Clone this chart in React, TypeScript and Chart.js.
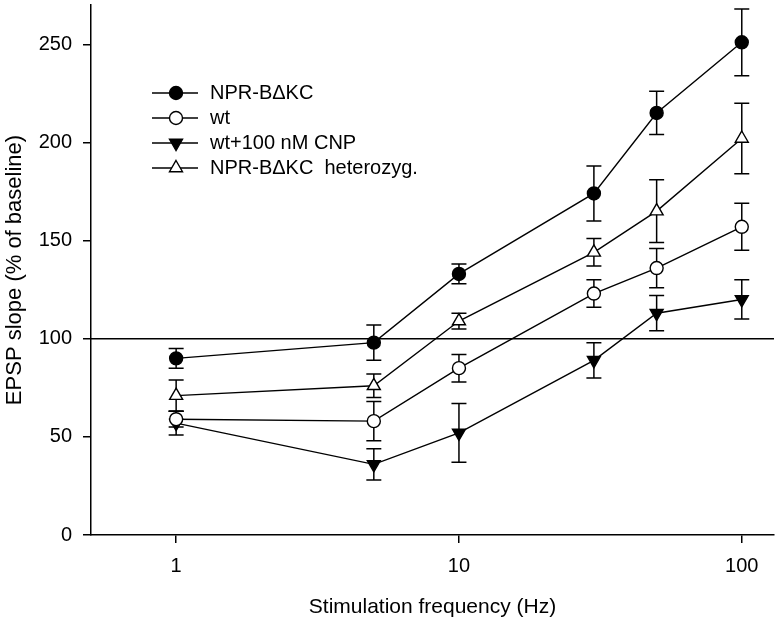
import React, { useEffect, useRef } from "react";
import { Chart, registerables } from "chart.js";
import { drawPoint } from "chart.js/helpers";

Chart.register(...registerables);

const frequencies = [1, 5, 10, 30, 50, 100];
const seriesLabels = ["NPR-BΔKC", "wt", "wt+100 nM CNP", "NPR-BΔKC  heterozyg."];
const nprMean = [90, 98, 133, 174, 215, 251];
const nprErr = [5, 9, 5, 14, 11, 17];
const wtMean = [59, 58, 85, 123, 136, 157];
const wtErr = [4, 10, 7, 7, 10, 12];
const cnpMean = [57, 36, 52, 89, 113, 120];
const cnpErr = [6, 8, 15, 9, 9, 10];
const hetMean = [71, 76, 109, 144, 165, 202];
const hetErr = [8, 6, 4, 7, 16, 18];
const xTicks = [1, 10, 100];
const yTicks = [0, 50, 100, 150, 200, 250];
const baseline = 100;

const FONT = "'Liberation Sans', Arial, sans-serif";

export default function App() {
  const ref = useRef<HTMLCanvasElement>(null);

  useEffect(() => {
    const canvas = ref.current!;
    const means = [nprMean, wtMean, cnpMean, hetMean];
    const errs = [nprErr, wtErr, cnpErr, hetErr];
    const fills = ["#000000", "#ffffff", "#000000", "#ffffff"];
    const styles = ["circle", "circle", "triangle", "triangle"];
    const rotations = [0, 0, 180, 0];
    const radii = [6.5, 6.5, 7.5, 7.5];

    const datasets = means.map((m, k) => ({
      label: seriesLabels[k],
      data: frequencies.map((x, i) => ({ x, y: m[i] })),
      borderColor: "#000000",
      backgroundColor: fills[k],
      borderWidth: 1.4,
      pointStyle: styles[k] as any,
      pointRotation: rotations[k],
      pointRadius: radii[k],
      pointBorderWidth: 1.4,
      pointBorderColor: "#000000",
      pointBackgroundColor: fills[k],
      fill: false,
      tension: 0,
      clip: false as any,
    }));

    const underlay = {
      id: "underlay",
      beforeDatasetsDraw(chart: any) {
        const ctx = chart.ctx;
        const xs = chart.scales.x;
        const ys = chart.scales.y;
        const area = chart.chartArea;
        ctx.save();
        ctx.strokeStyle = "#000";
        ctx.lineWidth = 1.5;
        const yb = ys.getPixelForValue(baseline);
        ctx.beginPath();
        ctx.moveTo(area.left, yb);
        ctx.lineTo(area.right, yb);
        ctx.stroke();
        const cap = 7.5;
        means.forEach((m, k) => {
          frequencies.forEach((f, i) => {
            const px = xs.getPixelForValue(f);
            const top = ys.getPixelForValue(m[i] + errs[k][i]);
            const bot = ys.getPixelForValue(m[i] - errs[k][i]);
            ctx.beginPath();
            ctx.moveTo(px, top);
            ctx.lineTo(px, bot);
            ctx.moveTo(px - cap, top);
            ctx.lineTo(px + cap, top);
            ctx.moveTo(px - cap, bot);
            ctx.lineTo(px + cap, bot);
            ctx.stroke();
          });
        });
        ctx.restore();
      },
    };

    const legendPlugin = {
      id: "insideLegend",
      afterDraw(chart: any) {
        const ctx = chart.ctx;
        const area = chart.chartArea;
        const x0 = area.left + 61;
        const y0 = area.top + 88;
        const rowH = 25;
        ctx.save();
        chart.data.datasets.forEach((ds: any, k: number) => {
          const y = y0 + k * rowH;
          ctx.strokeStyle = "#000";
          ctx.lineWidth = 1.4;
          ctx.beginPath();
          ctx.moveTo(x0, y);
          ctx.lineTo(x0 + 46, y);
          ctx.stroke();
          ctx.fillStyle = ds.pointBackgroundColor;
          ctx.strokeStyle = "#000";
          ctx.lineWidth = 1.4;
          drawPoint(
            ctx,
            {
              pointStyle: ds.pointStyle,
              rotation: ds.pointRotation,
              radius: ds.pointRadius,
              borderWidth: 1.4,
            } as any,
            x0 + 24,
            y
          );
          ctx.fillStyle = "#000";
          ctx.font = `20px ${FONT}`;
          ctx.textBaseline = "middle";
          ctx.textAlign = "left";
          ctx.fillText(ds.label, x0 + 58, y);
        });
        ctx.restore();
      },
    };

    const chart = new Chart(canvas, {
      type: "line",
      data: { datasets: datasets as any },
      plugins: [underlay, legendPlugin],
      options: {
        responsive: false,
        devicePixelRatio: 1,
        animation: false,
        layout: {
          autoPadding: false,
          padding: { top: 5, right: 3, left: 0, bottom: 0 },
        },
        plugins: {
          legend: { display: false },
          tooltip: { enabled: false },
        },
        scales: {
          x: {
            type: "logarithmic",
            position: "bottom",
            min: 0.5,
            max: 130,
            afterBuildTicks: (s: any) => {
              s.ticks = xTicks.map((v) => ({ value: v }));
            },
            afterFit: (s: any) => {
              s.height = 92;
              s.paddingLeft = 0;
              s.paddingRight = 0;
            },
            grid: {
              drawOnChartArea: false,
              drawTicks: true,
              tickLength: 8,
              color: "#000",
              lineWidth: 1.5,
            },
            border: { display: true, color: "#000", width: 1.5 },
            ticks: {
              color: "#000",
              font: { family: FONT, size: 20 },
              padding: 11,
              autoSkip: false,
              maxRotation: 0,
              callback: (v: any) => String(v),
            },
            title: {
              display: true,
              text: "Stimulation frequency (Hz)",
              color: "#000",
              font: { family: FONT, size: 21 },
              padding: { top: 0, bottom: 7 },
            },
          },
          y: {
            type: "linear",
            min: 0,
            max: 270,
            afterBuildTicks: (s: any) => {
              s.ticks = yTicks.map((v) => ({ value: v }));
            },
            afterFit: (s: any) => {
              s.width = 91;
              s.paddingTop = 0;
              s.paddingBottom = 0;
            },
            grid: {
              drawOnChartArea: false,
              drawTicks: true,
              tickLength: 8,
              color: "#000",
              lineWidth: 1.5,
            },
            border: { display: true, color: "#000", width: 1.5 },
            ticks: {
              color: "#000",
              font: { family: FONT, size: 20 },
              padding: 11,
              callback: (v: any) => String(v),
            },
            title: {
              display: true,
              text: "EPSP slope (% of baseline)",
              color: "#000",
              font: { family: FONT, size: 22 },
              padding: { top: 2, bottom: 0 },
            },
          },
        },
      },
    });

    return () => chart.destroy();
  }, []);

  return (
    <div
      style={{
        position: "fixed",
        left: 0,
        top: 0,
        width: 777,
        height: 627,
        background: "#ffffff",
      }}
    >
      <canvas
        ref={ref}
        width={777}
        height={627}
        style={{ width: 777, height: 627, display: "block" }}
      />
    </div>
  );
}
